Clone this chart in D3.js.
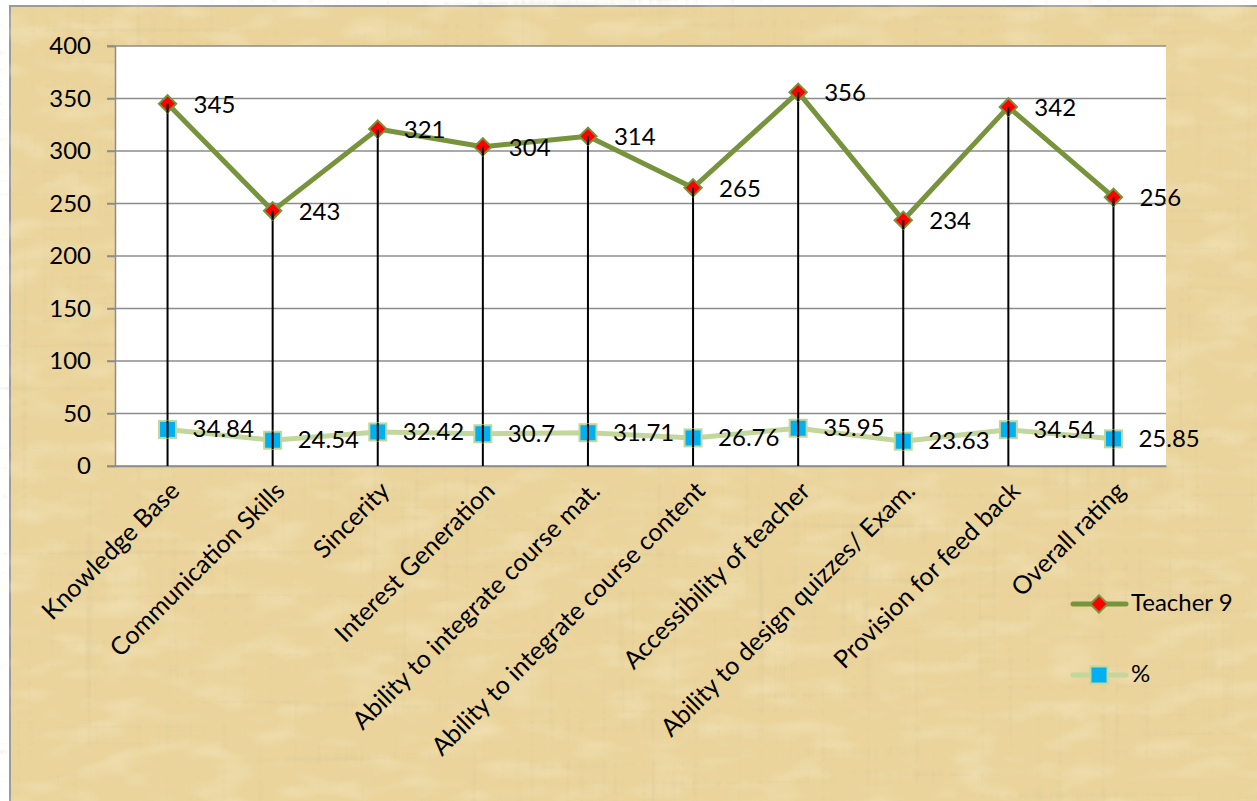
<!DOCTYPE html>
<html>
<head>
<meta charset="utf-8">
<script src="https://cdn.jsdelivr.net/npm/d3@7"></script>
<style>
  html, body { margin: 0; padding: 0; background: #ffffff; }
  svg { display: block; }
  text { font-family: Lato, "Open Sans", sans-serif; fill: #000; }
</style>
</head>
<body>
<svg id="chart" width="1257" height="801"></svg>
<script>
const categories = [
  "Knowledge Base",
  "Communication Skills",
  "Sincerity",
  "Interest Generation",
  "Ability to integrate course mat.",
  "Ability to integrate course content",
  "Accessibility of teacher",
  "Ability to design quizzes/ Exam.",
  "Provision for feed back",
  "Overall rating"
];
const teacherValues = [345, 243, 321, 304, 314, 265, 356, 234, 342, 256];
const percentValues = [34.84, 24.54, 32.42, 30.7, 31.71, 26.76, 35.95, 23.63, 34.54, 25.85];
const yTickValues = [0, 50, 100, 150, 200, 250, 300, 350, 400];
const seriesNames = ["Teacher 9", "%"];

const svg = d3.select("#chart");
const W = 1257, H = 801;
const plot = { left: 115, right: 1166, top: 46, bottom: 466 };

// ---- parchment background ----
const defs = svg.append("defs");
const f = defs.append("filter").attr("id", "tex")
  .attr("x", 0).attr("y", 0).attr("width", W).attr("height", H)
  .attr("filterUnits", "userSpaceOnUse");
f.append("feTurbulence").attr("type", "fractalNoise")
  .attr("baseFrequency", "0.004 0.14").attr("numOctaves", 3).attr("seed", 4).attr("result", "h");
f.append("feTurbulence").attr("type", "fractalNoise")
  .attr("baseFrequency", "0.14 0.004").attr("numOctaves", 3).attr("seed", 9).attr("result", "v");
f.append("feBlend").attr("in", "h").attr("in2", "v").attr("mode", "multiply").attr("result", "b");
f.append("feColorMatrix").attr("in", "b").attr("type", "matrix")
  .attr("values", "0 0 0 0 0.66  0 0 0 0 0.55  0 0 0 0 0.30  -2.4 0 0 0 0.85");
const f2 = defs.append("filter").attr("id", "tex2")
  .attr("x", 0).attr("y", 0).attr("width", W).attr("height", H)
  .attr("filterUnits", "userSpaceOnUse");
f2.append("feTurbulence").attr("type", "fractalNoise")
  .attr("baseFrequency", "0.02 0.05").attr("numOctaves", 2).attr("seed", 2).attr("result", "n");
f2.append("feColorMatrix").attr("in", "n").attr("type", "matrix")
  .attr("values", "0 0 0 0 0.98  0 0 0 0 0.92  0 0 0 0 0.74  2.0 0 0 0 -0.95");

svg.append("rect").attr("x", 10).attr("y", 6).attr("width", W).attr("height", H)
  .attr("fill", "#ead49c").attr("stroke", "#9a9a9a").attr("stroke-width", 2);
svg.append("rect").attr("x", 11).attr("y", 7).attr("width", W).attr("height", H)
  .attr("filter", "url(#tex2)").attr("opacity", 0.35);
svg.append("rect").attr("x", 11).attr("y", 7).attr("width", W).attr("height", H)
  .attr("filter", "url(#tex)").attr("opacity", 0.6);

// ---- scales ----
const x = d3.scalePoint().domain(categories).range([plot.left, plot.right]).padding(0.5);
const y = d3.scaleLinear().domain([0, 400]).range([plot.bottom, plot.top]);

// plot area
svg.append("rect").attr("x", plot.left).attr("y", plot.top)
  .attr("width", plot.right - plot.left).attr("height", plot.bottom - plot.top)
  .attr("fill", "#ffffff");

// gridlines
svg.append("g").selectAll("line").data(yTickValues).join("line")
  .attr("x1", plot.left - 8).attr("x2", plot.right)
  .attr("y1", d => y(d)).attr("y2", d => y(d))
  .attr("stroke", "#8c8c8c").attr("stroke-width", 1.5);

// y axis
const yAxis = svg.append("g").attr("transform", `translate(${plot.left},0)`)
  .call(d3.axisLeft(y).tickValues(yTickValues).tickSize(8).tickPadding(16));
yAxis.select(".domain").attr("stroke", "#8c8c8c").attr("stroke-width", 1.5);
yAxis.selectAll(".tick line").attr("stroke", "#8c8c8c").attr("stroke-width", 1.5);
yAxis.selectAll("text").attr("font-size", 24).attr("font-family", "Lato, sans-serif").attr("fill", "#000");

// x axis
const xAxis = svg.append("g").attr("transform", `translate(0,${plot.bottom})`)
  .call(d3.axisBottom(x).tickSize(0).tickFormat(""));
xAxis.select(".domain").attr("stroke", "#8c8c8c").attr("stroke-width", 1.5);

svg.append("g").selectAll("text").data(categories).join("text")
  .attr("transform", d => `translate(${x(d) + 9},${plot.bottom + 22}) rotate(-45)`)
  .attr("text-anchor", "end")
  .attr("dominant-baseline", "middle")
  .attr("font-size", 25)
  .text(d => d);

// drop lines
svg.append("g").selectAll("line").data(categories).join("line")
  .attr("x1", d => x(d)).attr("x2", d => x(d))
  .attr("y1", (d, i) => y(teacherValues[i])).attr("y2", plot.bottom)
  .attr("stroke", "#000").attr("stroke-width", 2);

const line = d3.line().x(d => d[0]).y(d => d[1]);

// % series
const pctPts = categories.map((c, i) => [x(c), y(percentValues[i])]);
svg.append("path").attr("d", line(pctPts)).attr("fill", "none")
  .attr("stroke", "#c3d69b").attr("stroke-width", 5).attr("stroke-linejoin", "round");
svg.append("g").selectAll("rect").data(pctPts).join("rect")
  .attr("x", d => d[0] - 8.5).attr("y", d => d[1] - 8.5).attr("width", 17).attr("height", 17)
  .attr("fill", "#00b0f0").attr("stroke", "#c3d69b").attr("stroke-width", 2);
svg.append("g").selectAll("line").data(pctPts).join("line")
  .attr("x1", d => d[0]).attr("x2", d => d[0]).attr("y1", d => d[1] - 9).attr("y2", d => d[1] + 9)
  .attr("stroke", "#000").attr("stroke-width", 2);
svg.append("g").selectAll("text").data(percentValues).join("text")
  .attr("x", (d, i) => pctPts[i][0] + 25).attr("y", (d, i) => pctPts[i][1] + 2)
  .attr("dominant-baseline", "middle").attr("font-size", 24)
  .text(d => d);

// Teacher series
const tPts = categories.map((c, i) => [x(c), y(teacherValues[i])]);
svg.append("path").attr("d", line(tPts)).attr("fill", "none")
  .attr("stroke", "#77933c").attr("stroke-width", 5).attr("stroke-linejoin", "round");
svg.append("g").selectAll("path").data(tPts).join("path")
  .attr("transform", d => `translate(${d[0]},${d[1]}) rotate(45)`)
  .attr("d", d3.symbol().type(d3.symbolSquare).size(150))
  .attr("fill", "#ff0000").attr("stroke", "#77933c").attr("stroke-width", 2);
svg.append("g").selectAll("line").data(tPts).join("line")
  .attr("x1", d => d[0]).attr("x2", d => d[0]).attr("y1", d => d[1]).attr("y2", d => d[1] + 9)
  .attr("stroke", "#000").attr("stroke-width", 2);
svg.append("g").selectAll("text").data(teacherValues).join("text")
  .attr("x", (d, i) => tPts[i][0] + 26).attr("y", (d, i) => tPts[i][1] + 3)
  .attr("dominant-baseline", "middle").attr("font-size", 24)
  .text(d => d);

// legend
const legend = svg.append("g");
const legItems = [
  { name: seriesNames[0], y: 604, color: "#77933c", marker: "diamond" },
  { name: seriesNames[1], y: 675, color: "#c3d69b", marker: "square" }
];
legItems.forEach(it => {
  legend.append("line").attr("x1", 1073).attr("x2", 1126).attr("y1", it.y).attr("y2", it.y)
    .attr("stroke", it.color).attr("stroke-width", 5).attr("stroke-linecap", "round");
  if (it.marker === "diamond") {
    legend.append("path").attr("transform", `translate(1099,${it.y}) rotate(45)`)
      .attr("d", d3.symbol().type(d3.symbolSquare).size(150))
      .attr("fill", "#ff0000").attr("stroke", "#77933c").attr("stroke-width", 2);
  } else {
    legend.append("rect").attr("x", 1090.5).attr("y", it.y - 8.5).attr("width", 17).attr("height", 17)
      .attr("fill", "#00b0f0").attr("stroke", "#c3d69b").attr("stroke-width", 2);
  }
  legend.append("text").attr("x", 1131).attr("y", it.y + 1)
    .attr("dominant-baseline", "middle").attr("font-size", 24).text(it.name);
});
</script>
</body>
</html>
